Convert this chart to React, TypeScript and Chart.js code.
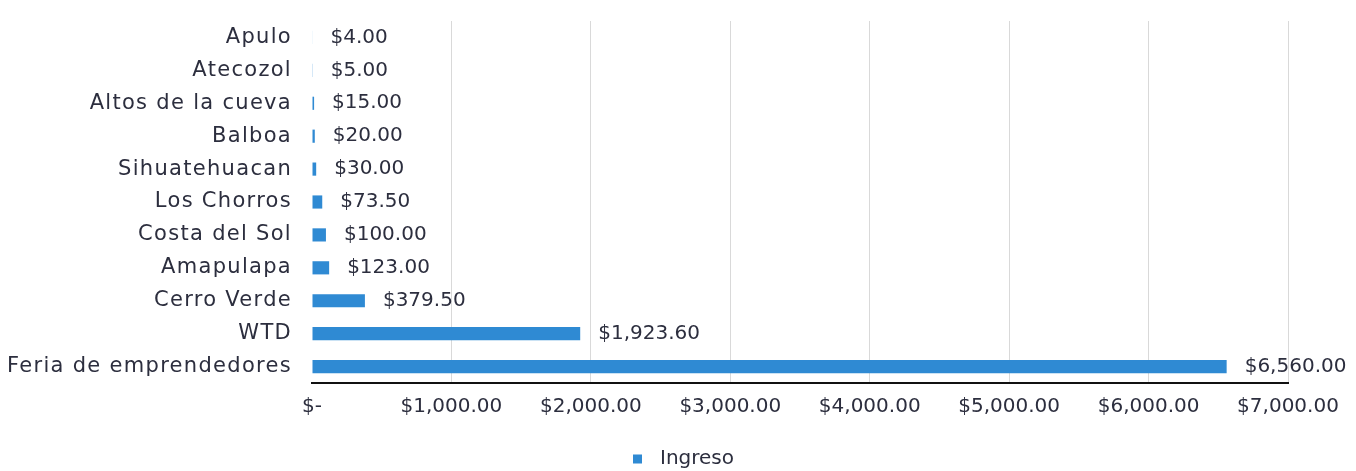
import React, { useEffect, useRef } from "react";
import { Chart, registerables } from "chart.js";

Chart.register(...registerables);

const categories: string[] = [
  "Apulo",
  "Atecozol",
  "Altos de la cueva",
  "Balboa",
  "Sihuatehuacan",
  "Los Chorros",
  "Costa del Sol",
  "Amapulapa",
  "Cerro Verde",
  "WTD",
  "Feria de emprendedores",
];
const ingreso: number[] = [4, 5, 15, 20, 30, 73.5, 100, 123, 379.5, 1923.6, 6560];
const seriesName = "Ingreso";
const xMin = 0;
const xMax = 7000;
const xStep = 1000;

const FONT = "'DejaVu Sans', sans-serif";
const TEXT = "#2c2e3e";
const BAR = "#2f8ad3";

const money = (v: number) =>
  "$" + v.toLocaleString("en-US", { minimumFractionDigits: 2, maximumFractionDigits: 2 });

const valueLabels = {
  id: "valueLabels",
  afterDatasetsDraw(chart: any) {
    const ctx = chart.ctx;
    const meta = chart.getDatasetMeta(0);
    ctx.save();
    ctx.font = `20px ${FONT}`;
    ctx.fillStyle = TEXT;
    ctx.textAlign = "left";
    ctx.textBaseline = "middle";
    meta.data.forEach((bar: any, i: number) => {
      ctx.fillText(money(ingreso[i]), bar.x + 18, bar.y);
    });
    ctx.restore();
  },
};

const categoryLabels = {
  id: "categoryLabels",
  afterDraw(chart: any) {
    const ctx = chart.ctx;
    const y = chart.scales.y;
    ctx.save();
    ctx.font = `21px ${FONT}`;
    (ctx as any).letterSpacing = "1.3px";
    ctx.fillStyle = TEXT;
    ctx.textAlign = "right";
    ctx.textBaseline = "middle";
    categories.forEach((c, i) => {
      ctx.fillText(c, y.right - 20, y.getPixelForValue(i));
    });
    ctx.restore();
  },
};

const bottomLegend = {
  id: "bottomLegend",
  afterDraw(chart: any) {
    const ctx = chart.ctx;
    const ds = chart.data.datasets[0];
    const cy = 459;
    ctx.save();
    ctx.fillStyle = ds.backgroundColor;
    ctx.fillRect(633, cy - 4.5, 9, 9);
    ctx.font = `20px ${FONT}`;
    ctx.fillStyle = TEXT;
    ctx.textAlign = "left";
    ctx.textBaseline = "middle";
    ctx.fillText(ds.label, 660, cy);
    ctx.restore();
  },
};

export default function App() {
  const ref = useRef<HTMLCanvasElement | null>(null);
  useEffect(() => {
    document.body.style.margin = "0";
    const chart = new Chart(ref.current as HTMLCanvasElement, {
      type: "bar",
      data: {
        labels: categories,
        datasets: [
          {
            label: seriesName,
            data: ingreso,
            backgroundColor: BAR,
            borderWidth: 0,
            barPercentage: 0.4,
            categoryPercentage: 1,
          },
        ],
      },
      options: {
        indexAxis: "y",
        animation: false,
        responsive: false,
        maintainAspectRatio: false,
        layout: { padding: { top: 21, right: 68, bottom: 32, left: 0 } },
        scales: {
          x: {
            min: xMin,
            max: xMax,
            ticks: {
              stepSize: xStep,
              color: TEXT,
              font: { family: FONT, size: 20 },
              padding: 12,
              maxRotation: 0,
              callback: (v: any) => (Number(v) === 0 ? "$-" : money(Number(v))),
            },
            grid: {
              color: (c: any) => (c.index === 0 ? "rgba(0,0,0,0)" : "#d9d9d9"),
              lineWidth: 1,
              drawTicks: false,
            },
            border: { color: "#111111", width: 2 },
            afterFit: (s: any) => {
              s.height = 56;
            },
          },
          y: {
            ticks: { display: false },
            grid: { display: false, drawTicks: false },
            border: { display: false },
            afterFit: (s: any) => {
              s.width = 312;
            },
          },
        },
        plugins: {
          legend: { display: false },
          tooltip: { enabled: false },
        },
      },
      plugins: [valueLabels, categoryLabels, bottomLegend],
    });
    return () => chart.destroy();
  }, []);
  return (
    <div style={{ width: 1356, height: 471, background: "#ffffff" }}>
      <canvas ref={ref} width={1356} height={471} />
    </div>
  );
}
